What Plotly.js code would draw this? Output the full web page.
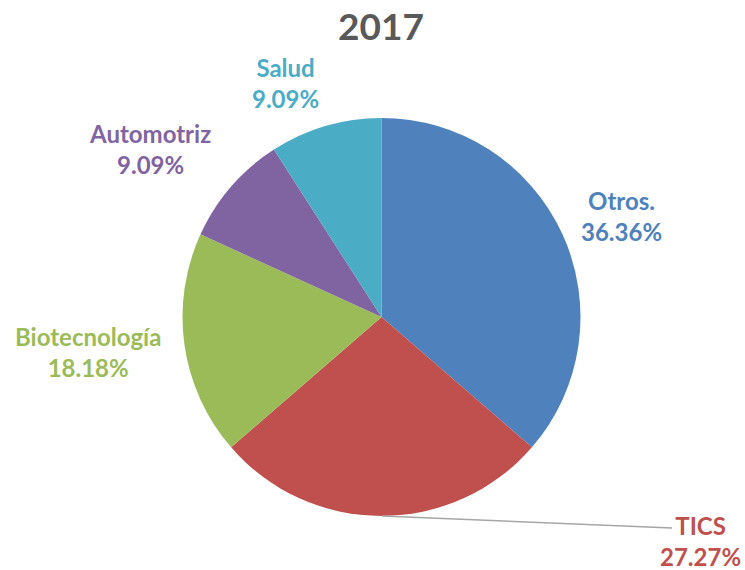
<!DOCTYPE html>
<html>
<head>
<meta charset="utf-8">
<script src="https://cdn.plot.ly/plotly-3.0.1.min.js"></script>
<style>html,body{margin:0;padding:0;background:#fff;}#chart{width:745px;height:570px;}</style>
</head>
<body>
<div id="chart"></div>
<script>
// Data
var categories = ["Otros.", "TICS", "Biotecnología", "Automotriz", "Salud"];
var values = [4, 3, 2, 1, 1];
var sliceColors = ["#4F81BD", "#C0504D", "#9BBB59", "#8064A2", "#4BACC6"];
var chartTitle = "2017";

// Layout helpers (label block centres in pixels)
var W = 745, H = 570;
var labelPos = {
  "Otros.": [621, 216],
  "TICS": [700, 541],
  "Biotecnología": [88, 352],
  "Automotriz": [150, 149],
  "Salud": [285, 83]
};
var total = values.reduce(function(a, b) { return a + b; }, 0);
var font = "Lato, 'Open Sans', sans-serif";

var annotations = categories.map(function(c, i) {
  var p = labelPos[c];
  return {
    xref: "paper", yref: "paper",
    x: p[0] / W, y: 1 - p[1] / H,
    xanchor: "center", yanchor: "middle",
    showarrow: false,
    text: c + "<br>" + (values[i] / total * 100).toFixed(2) + "%",
    font: {family: font, size: 24, color: sliceColors[i], weight: "bold"}
  };
});

var cx = 381.5, cy = 317, r = 199;
var trace = {
  type: "pie",
  labels: categories,
  values: values,
  sort: false,
  direction: "clockwise",
  rotation: 0,
  textinfo: "none",
  hoverinfo: "label+percent",
  marker: {colors: sliceColors, line: {width: 0}},
  domain: {x: [(cx - r) / W, (cx + r) / W], y: [1 - (cy + r) / H, 1 - (cy - r) / H]},
  showlegend: false
};

var layout = {
  width: W, height: H,
  margin: {l: 0, r: 0, t: 0, b: 0},
  paper_bgcolor: "#ffffff",
  title: {
    text: "<b>" + chartTitle + "</b>",
    font: {family: font, size: 37, color: "#595959"},
    xref: "paper", x: 381 / W, xanchor: "center",
    yref: "container", y: 1 - 27 / H, yanchor: "middle"
  },
  annotations: annotations,
  shapes: [{
    type: "line", xref: "paper", yref: "paper",
    x0: 382 / W, y0: 1 - 516 / H, x1: 672 / W, y1: 1 - 528 / H,
    line: {color: "#A6A6A6", width: 1.5}
  }]
};

Plotly.newPlot("chart", [trace], layout, {displayModeBar: false, staticPlot: true});
</script>
</body>
</html>
